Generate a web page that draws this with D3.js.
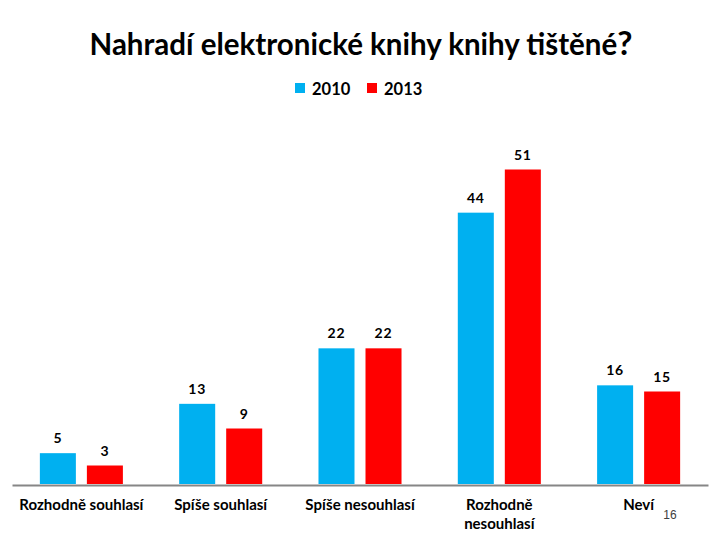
<!DOCTYPE html>
<html><head><meta charset="utf-8">
<script src="https://cdn.jsdelivr.net/npm/d3@7"></script>
<style>body{margin:0;background:#fff}svg{display:block}</style>
</head><body>
<script>
const categories = ["Rozhodně souhlasí", "Spíše souhlasí", "Spíše nesouhlasí", "Rozhodně\nnesouhlasí", "Neví"];
const seriesNames = ["2010", "2013"];
const values2010 = [5, 13, 22, 44, 16];
const values2013 = [3, 9, 22, 51, 15];
const colors = ["#00B0F0", "#FF0000"];
const titleText = "Nahradí elektronické knihy knihy tištěné";
const pageNumber = "16";

const W = 720, H = 540;
const svg = d3.select("body").append("svg").attr("width", W).attr("height", H);
const font = "Lato, 'Open Sans', sans-serif";

const baseY = 484;
const y = d3.scaleLinear().domain([0, 51]).range([baseY, 169.5]);
const x0 = d3.scaleBand().domain(categories).range([12, 708]).paddingInner(0.404).paddingOuter(0.2);
const x1 = d3.scaleBand().domain(seriesNames).range([0, x0.bandwidth()]).paddingInner(0.234).paddingOuter(0);

const series = [values2010, values2013];
const data = [];
categories.forEach((c, i) => seriesNames.forEach((s, j) => data.push({c, s, v: series[j][i], color: colors[j]})));

// title
const t = svg.append("text").attr("x", 361).attr("y", 55).attr("text-anchor", "middle")
  .attr("font-family", font).attr("font-weight", "bold").attr("font-size", 29.5).attr("fill", "#000");
t.append("tspan").text(titleText);
t.append("tspan").attr("font-size", 33).text("?");

// legend
const lg = svg.append("g");
const legX = [295, 367];
seriesNames.forEach((s, j) => {
  lg.append("rect").attr("x", legX[j]).attr("y", 83).attr("width", 10).attr("height", 10).attr("fill", colors[j]);
  lg.append("text").attr("x", legX[j] + 17).attr("y", 95).attr("font-family", font).attr("font-weight", "bold")
    .attr("font-size", 16.5).attr("fill", "#000").text(s);
});

// bars
svg.append("g").selectAll("rect").data(data).join("rect")
  .attr("x", d => x0(d.c) + x1(d.s)).attr("width", x1.bandwidth())
  .attr("y", d => y(d.v)).attr("height", d => baseY - y(d.v)).attr("fill", d => d.color);

// value labels
svg.append("g").selectAll("text").data(data).join("text")
  .attr("x", d => x0(d.c) + x1(d.s) + x1.bandwidth() / 2)
  .attr("y", d => y(d.v) - 10)
  .attr("text-anchor", "middle").attr("font-family", font).attr("font-weight", "bold")
  .attr("font-size", 14).attr("letter-spacing", 0.8).attr("fill", "#000").text(d => d.v);

// axis
const axis = d3.axisBottom(x0).tickSize(0).tickPadding(0);
const ag = svg.append("g").attr("transform", `translate(0,${baseY + 1})`).call(axis);
ag.select(".domain").attr("stroke", "#868686").attr("stroke-width", 2);
ag.selectAll(".tick text").remove();
ag.selectAll(".tick").each(function(d) {
  const lines = d.split("\n");
  const tx = d3.select(this).append("text").attr("text-anchor", "middle").attr("font-family", font)
    .attr("font-weight", "bold").attr("font-size", 15).attr("fill", "#000").attr("y", 25);
  lines.forEach((l, i) => tx.append("tspan").attr("x", 0).attr("dy", i === 0 ? 0 : 19).text(l));
});

// page number
svg.append("text").attr("x", 670).attr("y", 519).attr("text-anchor", "middle")
  .attr("font-family", "'Liberation Sans', Arial, sans-serif").attr("font-size", 12).attr("fill", "#404040").text(pageNumber);
</script>
</body></html>
